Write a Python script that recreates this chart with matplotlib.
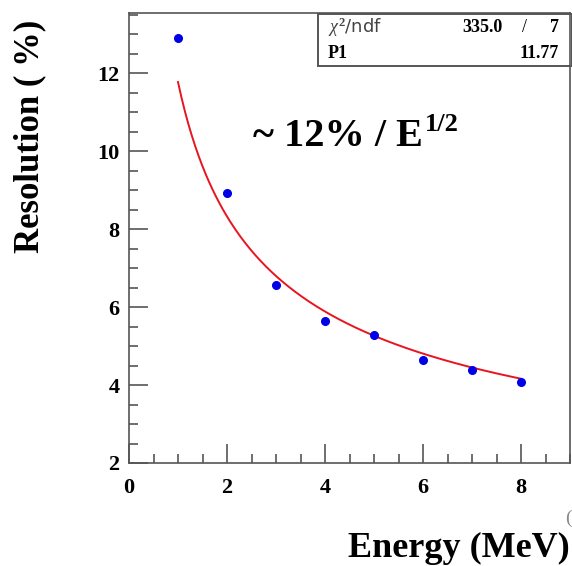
import numpy as np
import matplotlib
matplotlib.use("Agg")
import matplotlib.pyplot as plt
from matplotlib.ticker import MultipleLocator

# measured points
energy = [1, 2, 3, 4, 5, 6, 7, 8]
resolution = [12.9, 8.92, 6.56, 5.64, 5.28, 4.64, 4.38, 4.08]

# fit result shown in the stats box
p1 = 11.77
chi2 = 335.0
ndf = 7

plt.rcParams['font.family'] = ['Liberation Serif', 'DejaVu Serif']
plt.rcParams['mathtext.fontset'] = 'custom'
plt.rcParams['mathtext.rm'] = 'Liberation Serif:bold'
plt.rcParams['mathtext.it'] = 'Liberation Serif:italic'
plt.rcParams['mathtext.bf'] = 'Liberation Serif:bold'

frame = '#555555'

fig = plt.figure(figsize=(5.72, 5.66), dpi=100)
ax = fig.add_axes([129 / 572, 1 - 463 / 566, (570 - 129) / 572, (463 - 13) / 566])

# fit curve p1/sqrt(E)
xf = np.linspace(energy[0], energy[-1], 200)
ax.plot(xf, p1 / np.sqrt(xf), color='#e8141e', lw=1.4, zorder=2)
ax.plot(energy, resolution, 'o', color='#0000e6', ms=5.5, zorder=3)

ax.set_xlim(0, 9)
ax.set_ylim(2, 13.54)
ax.xaxis.set_major_locator(MultipleLocator(2))
ax.xaxis.set_minor_locator(MultipleLocator(0.5))
ax.yaxis.set_major_locator(MultipleLocator(2))
ax.yaxis.set_minor_locator(MultipleLocator(0.5))
ax.tick_params(which='both', direction='in', color=frame, top=False, right=False)
ax.tick_params(which='major', length=14, width=1.2)
ax.tick_params(which='minor', length=6.5, width=1.2)
ax.tick_params(axis='x', which='major', pad=11)
ax.tick_params(axis='y', which='major', pad=7)
for lab in ax.get_xticklabels() + ax.get_yticklabels():
    lab.set_fontsize(16)
    lab.set_fontweight('bold')
for s in ax.spines.values():
    s.set_color(frame)
    s.set_linewidth(1.2)

fig.text(30 / 572, 1 - 136 / 566, 'Resolution ( %)', rotation=90, fontsize=25,
         fontweight='bold', ha='center', va='center')
fig.text(570 / 572, 1 - 548 / 566, 'Energy (MeV)', fontsize=26,
         fontweight='bold', ha='right', va='center')
fig.text(565 / 572, 1 - 518 / 566, '(', fontsize=14, color='#888888',
         ha='left', va='center')

t = ax.text(0.282, 0.725, r'~ 12% / E', transform=ax.transAxes, fontsize=29,
            fontweight='bold', ha='left', va='center')
ax.annotate('1/2', xy=(1.0, 0.82), xycoords=t, xytext=(1, 0), textcoords='offset points',
            fontsize=19, fontweight='bold', ha='left', va='center')

# stats box
bx0, by0, bx1, by1 = 318 / 572, 1 - 66 / 566, 572 / 572, 1 - 14 / 566
fig.patches.append(plt.Rectangle((bx0, by0), bx1 - bx0, by1 - by0, transform=fig.transFigure,
                                 fill=False, ec=frame, lw=1.4, clip_on=False))
fig.text(328 / 572, 1 - 27 / 566, r'$\chi^{2}$/ndf', fontsize=13, color='#444444',
         family=['DejaVu Sans'], ha='left', va='center')
fig.text(503 / 572, 1 - 27 / 566, f'{chi2:.1f}', fontsize=13, fontweight='bold',
         ha='right', va='center')
fig.text(524 / 572, 1 - 27 / 566, '/', fontsize=13, ha='center', va='center')
fig.text(559 / 572, 1 - 27 / 566, f'{ndf}', fontsize=13, fontweight='bold',
         ha='right', va='center')
fig.text(328 / 572, 1 - 53 / 566, 'P1', fontsize=13, fontweight='bold',
         ha='left', va='center')
fig.text(559 / 572, 1 - 53 / 566, f'{p1:.2f}', fontsize=13, fontweight='bold',
         ha='right', va='center')

fig.savefig('out.png', dpi=100)
